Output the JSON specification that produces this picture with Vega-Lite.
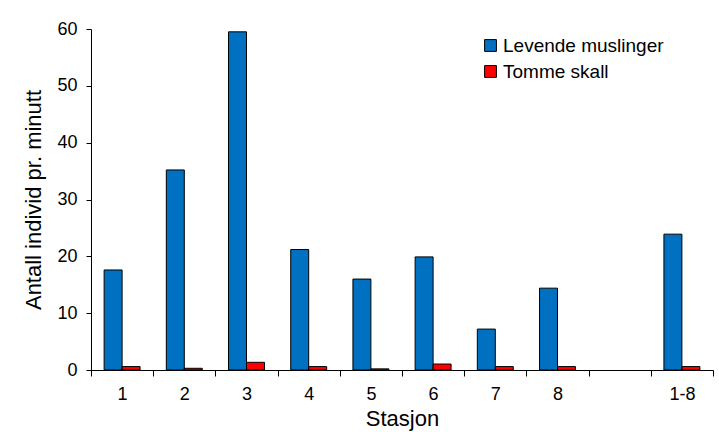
{
  "$schema": "https://vega.github.io/schema/vega-lite/v6.json",
  "autosize": {"type": "none"},
  "width": 622,
  "height": 341,
  "padding": {"left": 91, "top": 29, "right": 6, "bottom": 62},
  "background": "white",
  "config": {
    "font": "Liberation Sans",
    "view": {"stroke": null},
    "axis": {"grid": false, "domainColor": "black", "tickColor": "black", "labelColor": "black", "titleColor": "black", "labelFont": "Liberation Sans", "titleFont": "Liberation Sans", "titleFontWeight": "normal"}
  },
  "data": {
    "values": [
      {"stasjon": "1", "serie": "Levende muslinger", "verdi": 17.6},
      {"stasjon": "1", "serie": "Tomme skall", "verdi": 0.6},
      {"stasjon": "2", "serie": "Levende muslinger", "verdi": 35.2},
      {"stasjon": "2", "serie": "Tomme skall", "verdi": 0.3},
      {"stasjon": "3", "serie": "Levende muslinger", "verdi": 59.5},
      {"stasjon": "3", "serie": "Tomme skall", "verdi": 1.35},
      {"stasjon": "4", "serie": "Levende muslinger", "verdi": 21.2},
      {"stasjon": "4", "serie": "Tomme skall", "verdi": 0.6},
      {"stasjon": "5", "serie": "Levende muslinger", "verdi": 16.0},
      {"stasjon": "5", "serie": "Tomme skall", "verdi": 0.2},
      {"stasjon": "6", "serie": "Levende muslinger", "verdi": 19.9},
      {"stasjon": "6", "serie": "Tomme skall", "verdi": 1.05},
      {"stasjon": "7", "serie": "Levende muslinger", "verdi": 7.2},
      {"stasjon": "7", "serie": "Tomme skall", "verdi": 0.6},
      {"stasjon": "8", "serie": "Levende muslinger", "verdi": 14.4},
      {"stasjon": "8", "serie": "Tomme skall", "verdi": 0.6},
      {"stasjon": "1-8", "serie": "Levende muslinger", "verdi": 23.9},
      {"stasjon": "1-8", "serie": "Tomme skall", "verdi": 0.6}
    ]
  },
  "mark": {"type": "bar", "stroke": "black", "strokeWidth": 1},
  "encoding": {
    "x": {
      "field": "stasjon",
      "type": "nominal",
      "scale": {"domain": ["1", "2", "3", "4", "5", "6", "7", "8", " ", "1-8"], "paddingInner": 0, "paddingOuter": 0},
      "axis": {"title": "Stasjon", "labelAngle": 0, "labelFontSize": 18, "titleFontSize": 22, "tickBand": "extent", "tickSize": 6, "labelPadding": 9, "titlePadding": 5, "domainWidth": 1}
    },
    "xOffset": {
      "field": "serie",
      "type": "nominal",
      "scale": {"domain": ["Levende muslinger", "Tomme skall"], "paddingInner": 0, "paddingOuter": 0.73}
    },
    "y": {
      "field": "verdi",
      "type": "quantitative",
      "scale": {"domain": [0, 60], "nice": false},
      "axis": {"title": "Antall individ pr. minutt", "values": [0, 10, 20, 30, 40, 50, 60], "labelFontSize": 18, "titleFontSize": 22, "tickSize": 5, "labelPadding": 9, "titlePadding": 11}
    },
    "color": {
      "field": "serie",
      "type": "nominal",
      "scale": {"domain": ["Levende muslinger", "Tomme skall"], "range": ["#0070C0", "#FF0000"]},
      "legend": {"title": null, "orient": "none", "legendX": 390, "legendY": 7, "labelFontSize": 19, "labelLimit": 300, "labelColor": "black", "symbolType": "square", "symbolSize": 140, "symbolStrokeColor": "black", "symbolStrokeWidth": 1, "rowPadding": 6, "labelOffset": 3}
    }
  }
}
